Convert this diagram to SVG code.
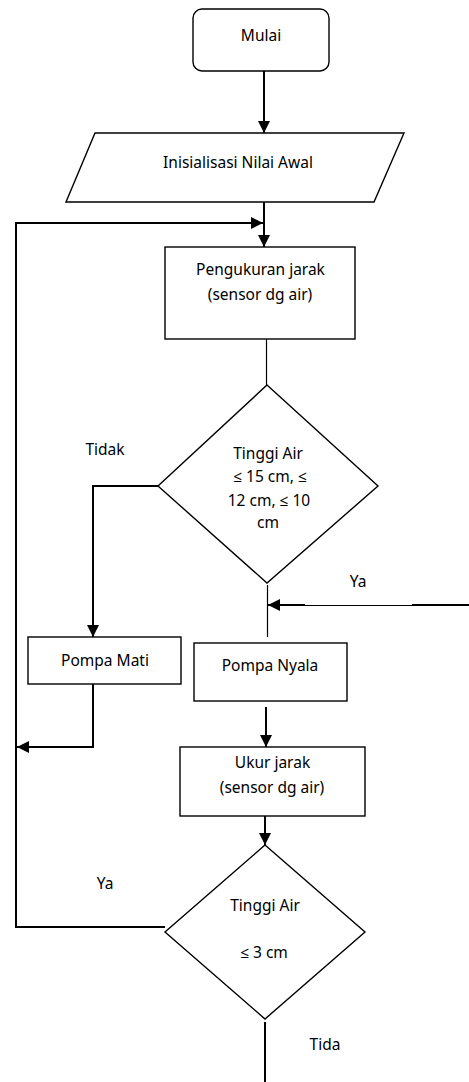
<svg xmlns="http://www.w3.org/2000/svg" width="469" height="1082" viewBox="0 0 469 1082">
<style>
.n{fill:#fff;stroke:#000;stroke-width:1.4}
.t{font-family:"Noto Sans","Open Sans",sans-serif;font-size:15.5px;fill:#000;text-anchor:middle}
.c{fill:none;stroke:#000;stroke-width:2}
.th{fill:none;stroke:#000;stroke-width:1.2}
</style>
<defs>
<marker id="ah" viewBox="0 0 12 12" refX="12" refY="6" markerWidth="12" markerHeight="12" markerUnits="userSpaceOnUse" orient="auto">
<path d="M0,0 L12,6 L0,12 Z" fill="#000"/>
</marker>
</defs>
<rect width="469" height="1082" fill="#fff"/>
<g id="connectors">
<line class="c" x1="264" y1="71" x2="264" y2="133" marker-end="url(#ah)"/>
<line class="c" x1="264" y1="202" x2="264" y2="247" marker-end="url(#ah)"/>
<polyline class="c" points="165,927 16,927 16,223 263,223" marker-end="url(#ah)"/>
<line class="th" x1="266.5" y1="339" x2="266.5" y2="385"/>
<polyline class="c" points="158,486 93,486 93,637" marker-end="url(#ah)"/>
<line class="th" x1="267.5" y1="585" x2="267.5" y2="637"/>
<line class="c" x1="305" y1="605" x2="268" y2="605" marker-end="url(#ah)"/>
<line class="th" x1="304" y1="605.5" x2="413" y2="605.5"/>
<line class="c" x1="412" y1="605" x2="469" y2="605"/>
<polyline class="c" points="93,684 93,747 17,747" marker-end="url(#ah)"/>
<line class="c" x1="266" y1="707" x2="266" y2="747" marker-end="url(#ah)"/>
<line class="c" x1="265" y1="816" x2="265" y2="845" marker-end="url(#ah)"/>
<line class="c" x1="265" y1="1022" x2="265" y2="1082"/>
<text class="t" x="105" y="455">Tidak</text>
<text class="t" x="358" y="587">Ya</text>
<text class="t" x="105" y="889">Ya</text>
<text class="t" x="325" y="1050">Tida</text>
</g>
<g id="mulai">
<rect class="n" x="193" y="9" width="136" height="62" rx="9"/>
<text class="t" x="261" y="41">Mulai</text>
</g>
<g id="inisialisasi">
<polygon class="n" points="95,133 404,133 374,202 66,202"/>
<text class="t" x="238" y="168">Inisialisasi Nilai Awal</text>
</g>
<g id="pengukuran">
<rect class="n" x="165" y="247" width="190" height="92"/>
<text class="t" x="260.5" y="275">Pengukuran jarak</text>
<text class="t" x="260" y="300">(sensor dg air)</text>
</g>
<g id="decision1">
<polygon class="n" points="267,385 378,486 267,583 158,486"/>
<text class="t" x="268" y="459">Tinggi Air</text>
<text class="t" x="270" y="482">≤ 15 cm, ≤</text>
<text class="t" x="269" y="506">12 cm, ≤ 10</text>
<text class="t" x="268" y="528">cm</text>
</g>
<g id="pompa-mati">
<rect class="n" x="28" y="637" width="153" height="47"/>
<text class="t" x="105" y="666">Pompa Mati</text>
</g>
<g id="pompa-nyala">
<rect class="n" x="194" y="643" width="153" height="58"/>
<text class="t" x="270" y="671">Pompa Nyala</text>
</g>
<g id="ukur">
<rect class="n" x="180" y="747" width="185" height="69"/>
<text class="t" x="272.5" y="768">Ukur jarak</text>
<text class="t" x="272" y="793">(sensor dg air)</text>
</g>
<g id="decision2">
<polygon class="n" points="265,845 365,932 265,1019 165,932"/>
<text class="t" x="265" y="911">Tinggi Air</text>
<text class="t" x="264" y="958">≤ 3 cm</text>
</g>
</svg>
